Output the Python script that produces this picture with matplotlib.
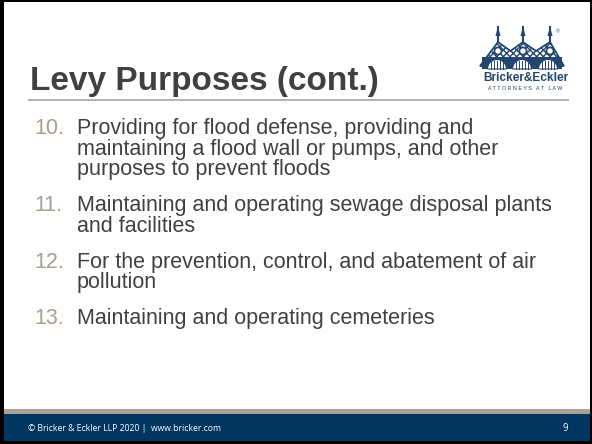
import matplotlib
matplotlib.use("Agg")
import matplotlib.pyplot as plt
from matplotlib.patches import Polygon, Rectangle, Circle, Wedge

# slide content
title = "Levy Purposes (cont.)"
item_numbers = ["10.", "11.", "12.", "13."]
item_lines = [
    ["Providing for flood defense, providing and",
     "maintaining a flood wall or pumps, and other",
     "purposes to prevent floods"],
    ["Maintaining and operating sewage disposal plants",
     "and facilities"],
    ["For the prevention, control, and abatement of air",
     "pollution"],
    ["Maintaining and operating cemeteries"],
]
footer_text = "\u00a9 Bricker & Eckler LLP 2020 |  www.bricker.com"
page_number = "9"

# colours
navy = "#003660"
tan = "#aca196"
text_grey = "#404040"
num_grey = "#a89d92"
logo_blue = "#24466e"

plt.rcParams["font.family"] = ["Liberation Sans", "DejaVu Sans"]

fig = plt.figure(figsize=(5.92, 4.44), dpi=100, facecolor="black")
ax = fig.add_axes([0, 0, 1, 1])
ax.set_xlim(0, 592)
ax.set_ylim(444, 0)
ax.axis("off")

# white slide area inside the black frame
ax.add_patch(Rectangle((4, 2), 586, 439, facecolor="white", edgecolor="none"))

# title and rule
ax.text(30, 90, title, fontsize=24, fontweight="bold", color=text_grey, va="baseline")
ax.plot([28, 569], [100.5, 100.5], color="#a6a6a6", lw=1.2, solid_capstyle="butt")

# numbered list
y = 134
for num, lines in zip(item_numbers, item_lines):
    ax.text(34, y, num, fontsize=15.5, color=num_grey, va="baseline")
    for k, line in enumerate(lines):
        ax.text(77, y + 20.5 * k, line, fontsize=15.5, color=text_grey, va="baseline")
    y += 20.5 * (len(lines) - 1) + 36

# logo: simplified building
roof = Polygon([(480, 66), (498, 42), (510.5, 51), (523, 42), (536, 51),
                (550, 42), (564, 66)], closed=True, facecolor="white",
               edgecolor=logo_blue, lw=1.3, hatch="xxxxx")
ax.add_patch(roof)
for cx in [498, 523, 550]:
    ax.plot([cx, cx], [42, 27], color=logo_blue, lw=1.5)
    ax.add_patch(Polygon([(cx - 2.5, 36), (cx, 26), (cx + 2.5, 36)], closed=True,
                         facecolor=logo_blue, edgecolor="none"))
    ax.add_patch(Circle((cx, 51), 3.6, facecolor="white", edgecolor=logo_blue, lw=1.3))
ax.add_patch(Rectangle((482, 57), 80, 12, facecolor=logo_blue, edgecolor="none"))
for cx in [497, 522, 548]:
    ax.add_patch(Wedge((cx, 69), 9.5, 180, 360, facecolor="white", edgecolor=logo_blue, lw=0.8))
    for dx in [-6, -3, 0, 3, 6]:
        ax.plot([cx + dx, cx + dx], [61, 69], color=logo_blue, lw=0.7)
ax.text(558, 32, "\u00ae", fontsize=3.5, color=logo_blue, ha="center", va="center")
ax.text(525.5, 81, "Bricker&Eckler", fontsize=8.6, fontweight="bold", color=logo_blue,
        ha="center", va="baseline")
ax.text(525.5, 90, "A T T O R N E Y S   A T   L A W", fontsize=3.9, color=logo_blue,
        ha="center", va="baseline")

# footer
ax.add_patch(Rectangle((4, 409), 586, 4.5, facecolor=tan, edgecolor="none"))
ax.add_patch(Rectangle((4, 413.5), 586, 27.5, facecolor=navy, edgecolor="none"))
ax.text(28, 428, footer_text, fontsize=6.2, color="white", va="center",
        family=["Open Sans", "DejaVu Sans"])
ax.text(565, 428.5, page_number, fontsize=7, color="white", ha="center", va="center",
        family=["Open Sans", "DejaVu Sans"])

fig.savefig("out.png", dpi=100, facecolor="black")
